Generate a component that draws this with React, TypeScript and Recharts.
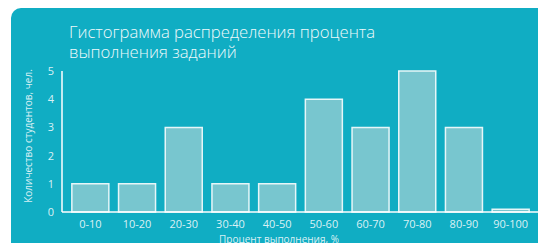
import { BarChart, Bar, XAxis, YAxis } from 'recharts'

const categories = ['0-10', '10-20', '20-30', '30-40', '40-50', '50-60', '60-70', '70-80', '80-90', '90-100']
const students = [1, 1, 3, 1, 1, 4, 3, 5, 3, 0.1]
const yTicks = [0, 1, 2, 3, 4, 5]

const data = categories.map((range, i) => ({ range, students: students[i] }))

const teal = '#10adc3'
const txt = 'rgba(255,255,255,0.85)'
const font = '"Open Sans", sans-serif'

export default function App() {
    return (
        <div style={{ margin: -8, width: 546, height: 251, background: '#fff', position: 'relative', overflow: 'hidden', fontFamily: font }}>
            <div style={{ position: 'absolute', left: 11, top: 8, width: 535, height: 243, background: teal, borderTopLeftRadius: 10 }} />
            <div style={{ position: 'absolute', left: 69, top: 22, color: '#eef9fb', fontSize: 16.7, lineHeight: '19.5px', fontWeight: 300, whiteSpace: 'nowrap' }}>
                <div>Гистограмма распределения процента</div>
                <div>выполнения заданий</div>
            </div>
            <div style={{ position: 'absolute', left: 0, top: 0 }}>
                <BarChart width={546} height={251} data={data} margin={{ top: 71, right: 8, bottom: 0, left: 0 }} barCategoryGap={4.85}>
                    <XAxis
                        dataKey="range"
                        height={39}
                        padding={{ left: 5, right: 4 }}
                        axisLine={{ stroke: '#fff', strokeWidth: 1.5 }}
                        tickLine={false}
                        tick={{ fill: txt, fontSize: 11, fontFamily: font }}
                        label={{ value: 'Процент выполнения, %', position: 'insideBottom', offset: 8, dx: -21, fill: txt, fontSize: 10, fontFamily: font }}
                    />
                    <YAxis
                        width={62}
                        domain={[0, 5]}
                        ticks={yTicks}
                        axisLine={{ stroke: '#fff', strokeWidth: 1.5 }}
                        tickLine={false}
                        tick={{ fill: txt, fontSize: 11, fontFamily: font }}
                    />
                    <Bar dataKey="students" fill="#78c6cf" stroke="#e6f6f8" strokeWidth={1.5} isAnimationActive={false} />
                </BarChart>
            </div>
            <div style={{ position: 'absolute', left: 28, top: 136, transform: 'translate(-50%, -50%) rotate(-90deg)', color: txt, fontSize: 10, whiteSpace: 'nowrap' }}>
                Количество студентов, чел.
            </div>
        </div>
    )
}
